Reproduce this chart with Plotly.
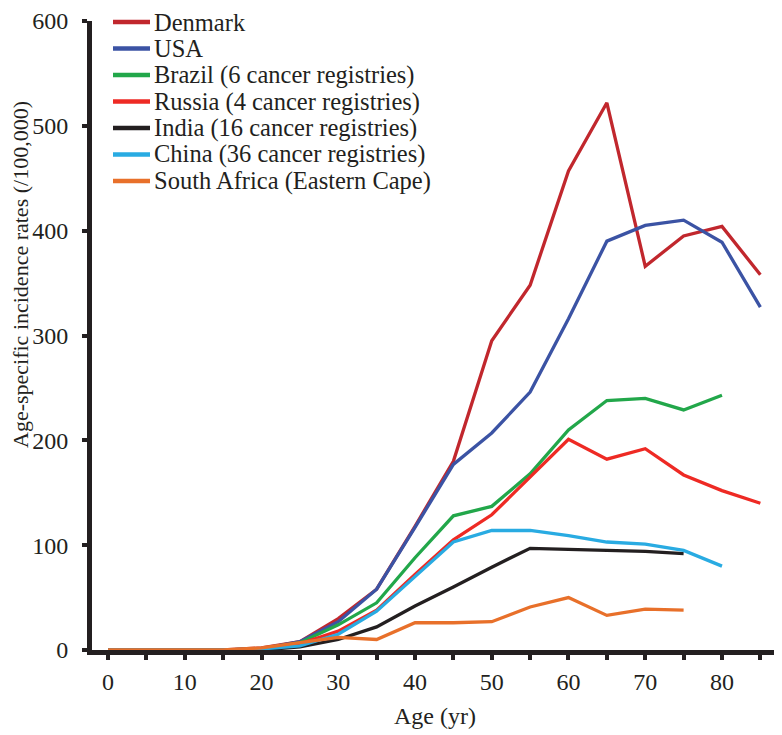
import plotly.graph_objects as go

ages = [0, 5, 10, 15, 20, 25, 30, 35, 40, 45, 50, 55, 60, 65, 70, 75, 80, 85]

denmark = [0, 0, 0, 0, 2, 8, 30, 58, 118, 180, 295, 348, 457, 522, 366, 395, 404, 358]
usa = [0, 0, 0, 0, 1, 8, 27, 58, 117, 177, 207, 246, 316, 390, 405, 410, 389, 327]
brazil = [0, 0, 0, 0, 1, 7, 24, 45, 88, 128, 137, 168, 210, 238, 240, 229, 243]
russia = [0, 0, 0, 0, 1, 6, 18, 38, 72, 105, 129, 165, 201, 182, 192, 167, 152, 140]
india = [0, 0, 0, 0, 0, 3, 10, 22, 42, 60, 79, 97, 96, 95, 94, 92]
china = [0, 0, 0, 0, 1, 4, 15, 37, 70, 103, 114, 114, 109, 103, 101, 95, 80]
south_africa = [0, 0, 0, 0, 2, 7, 12, 10, 26, 26, 27, 41, 50, 33, 39, 38]

names = [
    "Denmark",
    "USA",
    "Brazil (6 cancer registries)",
    "Russia (4 cancer registries)",
    "India (16 cancer registries)",
    "China (36 cancer registries)",
    "South Africa (Eastern Cape)",
]
series = [denmark, usa, brazil, russia, india, china, south_africa]
colors = ["#C1272D", "#3B53A4", "#22A74A", "#EE2A24", "#231F20", "#29ABE2", "#E8702A"]

x_tickvals = [0, 5, 10, 15, 20, 25, 30, 35, 40, 45, 50, 55, 60, 65, 70, 75, 80, 85]
x_ticktext = ["0", "", "10", "", "20", "", "30", "", "40", "", "50", "", "60", "", "70", "", "80", ""]
y_tickvals = [0, 100, 200, 300, 400, 500, 600]

x_title = "Age (yr)"
y_title = "Age-specific incidence rates (/100,000)"

font_family = "Liberation Serif"
ink = "#231F20"

# The page body has an 8px default margin, so the figure is 8px smaller.
OFF = 8
W, H = 782 - OFF, 735 - OFF
ML, MR, MT, MB = 84, 4, 13, 85
plot_w = W - ML - MR
plot_h = H - MT - MB


def px_x(p):
    return (p - OFF - ML) / plot_w


def px_y(p):
    return (H - MB - (p - OFF)) / plot_h


fig = go.Figure()
for name, vals, col in zip(names, series, colors):
    fig.add_trace(go.Scatter(
        x=ages[:len(vals)], y=vals, mode="lines", name=name,
        line=dict(color=col, width=3.3), showlegend=False,
    ))

# Legend drawn as layout shapes + text annotations (matches the reference spacing)
shapes = []
annotations = []
for i, (name, col) in enumerate(zip(names, colors)):
    yc = px_y(22 + 26.5 * i)
    shapes.append(dict(type="line", xref="paper", yref="paper",
                       x0=px_x(113), x1=px_x(150), y0=yc, y1=yc,
                       line=dict(color=col, width=4.5)))
    annotations.append(dict(xref="paper", yref="paper", x=px_x(152), y=yc,
                            xanchor="left", yanchor="middle", text=name,
                            showarrow=False,
                            font=dict(family=font_family, size=24.5, color=ink)))

annotations.append(dict(xref="paper", yref="paper", x=px_x(20), y=px_y(275),
                        xanchor="center", yanchor="middle", text=y_title,
                        textangle=-90, showarrow=False,
                        font=dict(family=font_family, size=22, color=ink)))

fig.update_layout(
    width=W, height=H,
    margin=dict(l=ML, r=MR, t=MT, b=MB),
    paper_bgcolor="white", plot_bgcolor="white",
    font=dict(family=font_family, size=24, color=ink),
    showlegend=False,
    shapes=shapes,
    annotations=annotations,
    xaxis=dict(
        range=[-2.09, 87.3], showgrid=False, zeroline=False,
        showline=True, linecolor=ink, linewidth=5, layer="below traces",
        ticks="outside", ticklen=5, tickwidth=4, tickcolor=ink,
        tickvals=x_tickvals, ticktext=x_ticktext,
        ticklabelstandoff=1,
        tickfont=dict(size=24, family=font_family, color=ink),
        automargin=False,
        title=dict(text=x_title, font=dict(size=24, family=font_family, color=ink), standoff=15),
    ),
    yaxis=dict(
        range=[0, 600], showgrid=False, zeroline=False,
        showline=True, linecolor=ink, linewidth=5, layer="below traces",
        ticks="outside", ticklen=5, tickwidth=4, tickcolor=ink,
        tickvals=y_tickvals,
        ticklabelstandoff=9, ticklabeloverflow="allow",
        automargin=False,
        tickfont=dict(size=24, family=font_family, color=ink),
    ),
)

fig.write_html("out.html")
